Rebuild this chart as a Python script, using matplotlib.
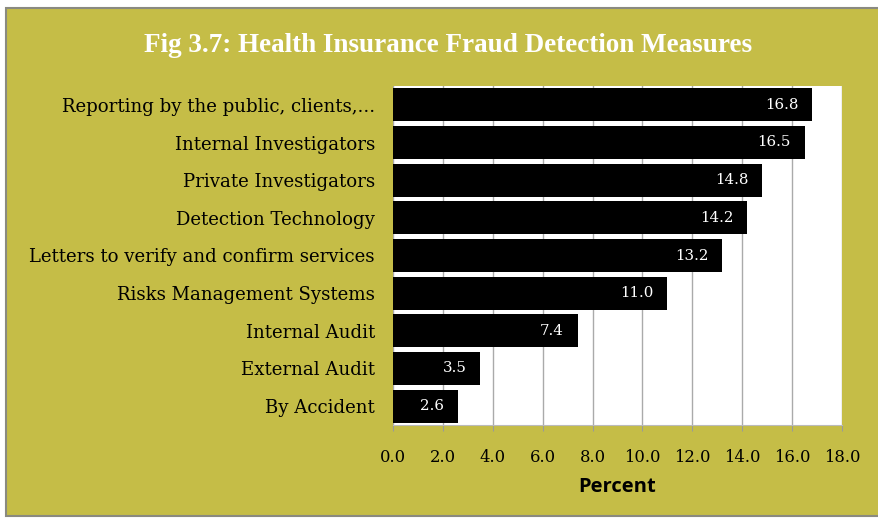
import matplotlib.pyplot as plt
from matplotlib.patches import Rectangle

categories = ['Reporting by the public, clients,...', 'Internal Investigators',
              'Private Investigators', 'Detection Technology',
              'Letters to verify and confirm services', 'Risks Management Systems',
              'Internal Audit', 'External Audit', 'By Accident']
values = [16.8, 16.5, 14.8, 14.2, 13.2, 11.0, 7.4, 3.5, 2.6]
xticks = [0, 2, 4, 6, 8, 10, 12, 14, 16, 18]

olive = '#c5bd47'
serif = ['DejaVu Serif']

fig = plt.figure(figsize=(8.79, 5.22), dpi=100)
fig.patch.set_facecolor('white')
# olive panel with grey frame, kept behind the axes
fig.patches.append(Rectangle((6 / 879, 0.012), 1.0, 1 - 8 / 522 - 0.012,
                             transform=fig.transFigure, facecolor=olive,
                             edgecolor='#8a8a80', linewidth=1.5, zorder=-5))

ax = fig.add_axes([393 / 879, 1 - 425 / 522, (842 - 393) / 879, (425 - 86) / 522])
ax.set_facecolor('white')

y = list(range(len(categories)))
ax.barh(y, values, height=0.88, color='black', zorder=3)
ax.set_xlim(0, 18)
ax.set_ylim(len(categories) - 0.5, -0.5)

for yi, v in zip(y, values):
    ax.text(v - 0.55, yi, f'{v:.1f}', ha='right', va='center', color='white',
            fontsize=10.8, family=serif, zorder=4)

ax.set_xticks(xticks)
ax.set_xticklabels([f'{t:.1f}' for t in xticks], family=serif, fontsize=11.8)
ax.set_yticks(y)
ax.set_yticklabels(categories, family=serif, fontsize=13.1)
ax.tick_params(axis='y', length=0, pad=13)
ax.tick_params(axis='x', length=4, color='#999999', pad=13)
ax.grid(axis='x', color='#aaaaaa', linewidth=1, zorder=1)
for s in ['top', 'right', 'left']:
    ax.spines[s].set_visible(False)
ax.spines['bottom'].set_color('#bbbbbb')

ax.set_xlabel('Percent', fontsize=14.5, fontweight='bold',
              family=['Open Sans', 'DejaVu Sans'], labelpad=8)

fig.text(448 / 879, 1 - 45 / 522, 'Fig 3.7: Health Insurance Fraud Detection Measures',
         ha='center', va='center', color='white', fontsize=19.5, fontweight='bold',
         family=['Liberation Serif', 'DejaVu Serif'])

fig.savefig('out.png', dpi=100, facecolor=fig.get_facecolor())
